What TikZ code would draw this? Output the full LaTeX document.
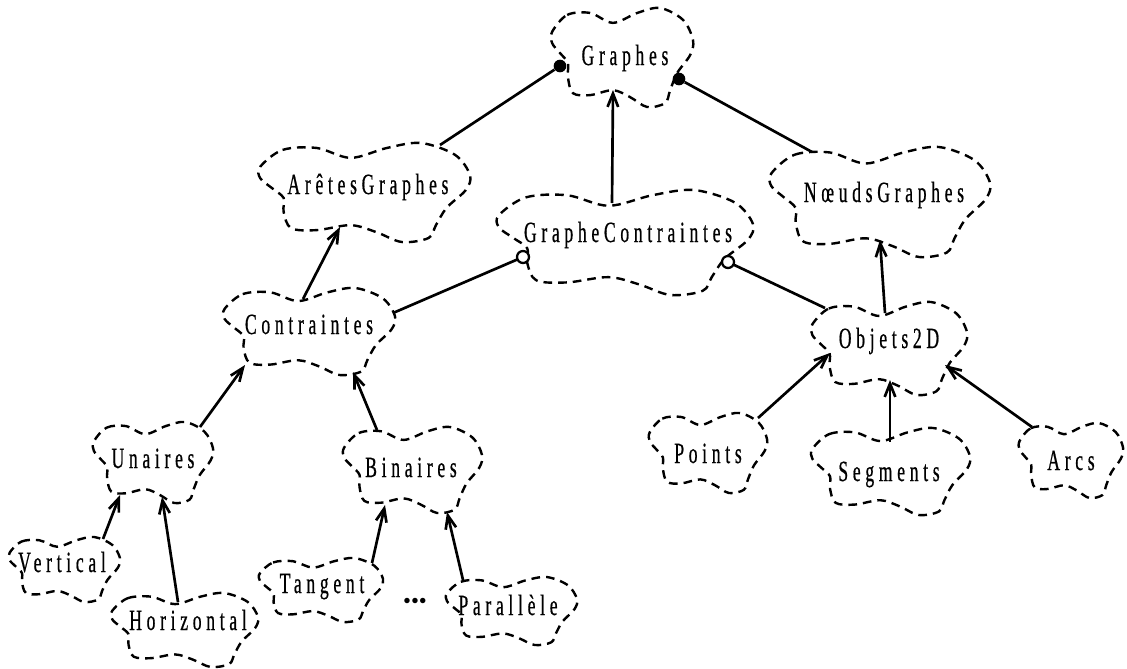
\documentclass[tikz,border=0pt]{standalone}
\usepackage{fontspec}
\setmainfont{Liberation Serif}[FakeStretch=0.6, LetterSpace=16, FakeBold=0.6]
\newfontfamily\plainserif{Liberation Serif}
\usetikzlibrary{arrows.meta}
\newcommand\boochcloud[4]{%
  \draw[cloudline, shift={(#1,#2)}, xscale=#3, yscale=#4]
    plot[smooth cycle, tension=0.55] coordinates {(-0.97,-0.52) (-0.76,-0.86) (-0.44,-0.90) (-0.12,-0.70) (0.22,-0.90) (0.54,-1.0) (0.86,-0.76) (1.0,-0.35) (0.96,-0.05) (0.78,0.31) (0.68,0.66) (0.61,0.92) (0.36,1.0) (0.12,0.80) (-0.12,0.66) (-0.44,0.76) (-0.68,0.72) (-0.75,0.39) (-0.75,0.11) (-0.86,-0.09) (-0.97,-0.29)};}
\begin{document}
\begin{tikzpicture}[x=0.75pt,y=-0.75pt,
  lbl/.style={font=\fontsize{22}{26}\selectfont, inner sep=0pt, anchor=base},
  cloudline/.style={line width=1.8pt, dash pattern=on 6.5pt off 4.5pt},
  link/.style={line width=2pt},
  inh/.style={link, -{Straight Barb[length=10pt,width=8pt]}},
  fdot/.style={circle, fill=black, inner sep=0pt, minimum size=9.5pt},
  odot/.style={circle, draw=black, fill=white, line width=1.7pt, inner sep=0pt, minimum size=9pt}]
\useasboundingbox (0,0) rectangle (1127,668);

% clouds
\boochcloud{621.5}{57.5}{71.5}{49.5}
\boochcloud{363.5}{192.5}{106.5}{49.5}
\boochcloud{624}{242.5}{129}{52.5}
\boochcloud{879}{202}{111}{55}
\boochcloud{308.5}{331.5}{86.5}{43.5}
\boochcloud{888.5}{348.5}{78.5}{46.5}
\boochcloud{152.5}{462.5}{60.5}{40.5}
\boochcloud{412}{470}{70}{43}
\boochcloud{64}{569.5}{56}{32.5}
\boochcloud{184}{630}{74}{37}
\boochcloud{320.5}{590}{62.5}{32}
\boochcloud{511}{611}{66}{34}
\boochcloud{707.5}{453}{59.5}{40}
\boochcloud{890}{471.5}{80}{43.5}
\boochcloud{1070.5}{460.5}{52.5}{37.5}

% labels
\node[lbl] (graphes) at (625,65) {Graphes};
\node[lbl] (aretes) at (368,194) {ArêtesGraphes};
\node[lbl] (gc) at (628,242) {GrapheContraintes};
\node[lbl] (noeuds) at (884,202) {NœudsGraphes};
\node[lbl] (contraintes) at (309,334) {Contraintes};
\node[lbl] (objets) at (889,348) {Objets2D};
\node[lbl] (unaires) at (153,468) {Unaires};
\node[lbl] (binaires) at (411,477) {Binaires};
\node[lbl] (vertical) at (62,572) {Vertical};
\node[lbl] (horizontal) at (188,630) {Horizontal};
\node[lbl] (tangent) at (322,593) {Tangent};
\node[lbl] (parallele) at (508,615) {Parallèle};
\node[lbl] (points) at (708,463) {Points};
\node[lbl] (segments) at (889,481) {Segments};
\node[lbl] (arcs) at (1071,470) {Arcs};
\node[font=\plainserif\fontsize{17}{17}\selectfont, inner sep=0pt] (dots) at (415,603) {•••};

% association ends
\node[fdot] (gdl) at ([shift={(-65,1)}]graphes.base) {};
\node[fdot] (gdr) at ([shift={(54,14)}]graphes.base) {};

% associations
\draw[link] (gdl) -- ([shift={(72,-49)}]aretes.base);
\draw[link] (gdr) -- ([shift={(-72,-50)}]noeuds.base);
\draw[link] ([shift={(84,-21)}]contraintes.base) -- ([shift={(-105,15)}]gc.base) node[odot] (gcl) {};
\draw[link] ([shift={(-64,-40)}]objets.base) -- ([shift={(100,20)}]gc.base) node[odot] (gcr) {};

% inheritance
\draw[inh] ([shift={(-16,-39)}]gc.base) -- ([shift={(-12,25)}]graphes.base);
\draw[inh] ([shift={(-6,-35)}]contraintes.base) -- ([shift={(-28,33)}]aretes.base);
\draw[inh] ([shift={(-4,-35)}]objets.base) -- ([shift={(-4,38)}]noeuds.base);
\draw[inh] ([shift={(47,-41)}]unaires.base) -- ([shift={(-64,31)}]contraintes.base);
\draw[inh] ([shift={(-34,-47)}]binaires.base) -- ([shift={(44,38)}]contraintes.base);
\draw[inh] ([shift={(41,-33)}]vertical.base) -- ([shift={(-33,27)}]unaires.base);
\draw[inh] ([shift={(-10,-28)}]horizontal.base) -- ([shift={(9,29)}]unaires.base);
\draw[inh] ([shift={(50,-30)}]tangent.base) -- ([shift={(-26,28)}]binaires.base);
\draw[inh] ([shift={(-45,-35)}]parallele.base) -- ([shift={(36,35)}]binaires.base);
\draw[inh] ([shift={(50,-45)}]points.base) -- ([shift={(-59,5)}]objets.base);
\draw[inh] ([shift={(1,-39)}]segments.base) -- ([shift={(1,32)}]objets.base);
\draw[inh] ([shift={(-39,-43)}]arcs.base) -- ([shift={(56,17)}]objets.base);
\end{tikzpicture}
\end{document}
